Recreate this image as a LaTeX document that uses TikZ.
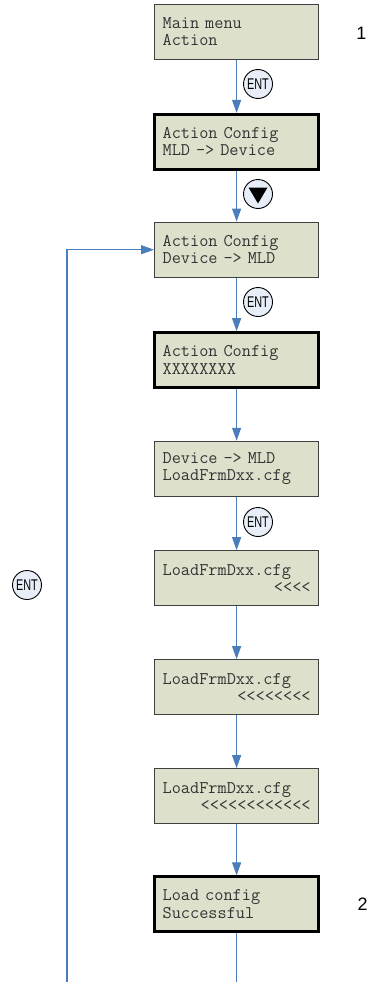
\documentclass[tikz,border=0pt]{standalone}
\usepackage{graphicx}
\usepackage{fontspec}
\setmainfont{Liberation Sans}
\usetikzlibrary{arrows.meta}
\definecolor{boxfill}{HTML}{DDE1CC}
\definecolor{entfill}{HTML}{E8EEF8}
\definecolor{flow}{HTML}{4A7EBB}
\begin{document}
\begin{tikzpicture}[x=1pt,y=-1pt,
  screen/.style={draw=black!75, line width=1.2pt, fill=boxfill,
    minimum width=164pt, minimum height=55pt, text width=148pt,
    inner xsep=8pt, inner ysep=0pt, align=left,
    font=\ttfamily\fontsize{17.8}{17.3}\selectfont, text=black!80},
  screenthick/.style={screen, draw=black, line width=2.6pt},
  key/.style={circle, draw=black, line width=0.9pt, fill=entfill,
    minimum size=29pt, inner sep=0pt, font=\fontsize{15.5}{15.5}\selectfont},
  flowline/.style={draw=flow, line width=1.1pt},
  flowarrow/.style={flowline, -{Triangle[length=13pt,width=9pt]}},
  steplabel/.style={font=\fontsize{18}{18}\selectfont}
]
\useasboundingbox (0,0) rectangle (370,982);

\node[screen]      (b1) at (236.6,31.7)  {Main menu\\Action};
\node[screenthick] (b2) at (236.6,141.7) {Action Config\\MLD -> Device};
\node[screen]      (b3) at (236.6,249.7) {Action Config\\Device -> MLD};
\node[screenthick] (b4) at (236.6,360.0) {Action Config\\XXXXXXXX};
\node[screen]      (b5) at (236.6,468.9) {Device -> MLD\\LoadFrmDxx.cfg};
\node[screen]      (b6) at (236.6,578.3) {LoadFrmDxx.cfg\\\hspace*{\fill}<<<<};
\node[screen]      (b7) at (236.6,687.2) {LoadFrmDxx.cfg\\\hspace*{\fill}<<<<<<<<};
\node[screen]      (b8) at (236.6,796.2) {LoadFrmDxx.cfg\\\hspace*{\fill}<<<<<<<<<<<<};
\node[screenthick] (b9) at (236.6,904.2) {Load config\\Successful};

\node[key] (k1) at (258,84)  {\scalebox{0.7}[1]{ENT}};
\node[key] (k2) at (258,194) {};
\fill[black] ([shift={(-9.5,-6.5)}]k2.center) -- ([shift={(9.5,-6.5)}]k2.center)
  -- ([shift={(0,9.5)}]k2.center) -- cycle;
\node[key] (k3) at (258,302) {\scalebox{0.7}[1]{ENT}};
\node[key] (k4) at (258,522) {\scalebox{0.7}[1]{ENT}};
\node[key] (k5) at (27,585)  {\scalebox{0.7}[1]{ENT}};

\node[steplabel] (n1) at (361.5,33.3)  {1};
\node[steplabel] (n2) at (362.5,904.5) {2};

\draw[flowarrow] (b1) -- (b2);
\draw[flowarrow] (b2) -- (b3);
\draw[flowarrow] (b3) -- (b4);
\draw[flowarrow] (b4) -- (b5);
\draw[flowarrow] (b5) -- (b6);
\draw[flowarrow] (b6) -- (b7);
\draw[flowarrow] (b7) -- (b8);
\draw[flowarrow] (b8) -- (b9);
\coordinate (bend) at (236.6,982);
\draw[flowline] (b9) -- (bend);
\coordinate (loopbot) at (67,982);
\coordinate (looptop) at (67,249.7);
\draw[flowarrow] (loopbot) -- (looptop) -- (b3);
\end{tikzpicture}
\end{document}
